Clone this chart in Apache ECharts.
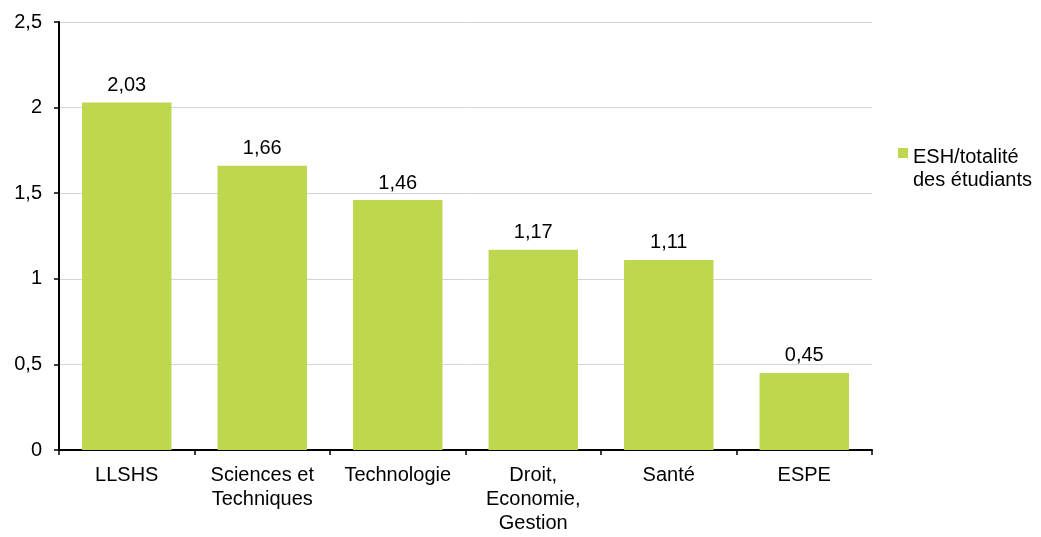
<!DOCTYPE html>
<html>
<head>
<meta charset="utf-8">
<script src="https://cdn.jsdelivr.net/npm/echarts@6/dist/echarts.min.js"></script>
<style>html,body{margin:0;padding:0;background:#fff}#c{width:1041px;height:537px}</style>
</head>
<body>
<div id="c"></div>
<script>
const categories = ["LLSHS", "Sciences et\nTechniques", "Technologie", "Droit,\nEconomie,\nGestion", "Santé", "ESPE"];
const values = [2.03, 1.66, 1.46, 1.17, 1.11, 0.45];
const seriesName = "ESH/totalité\ndes étudiants";
const yMin = 0, yMax = 2.5, yStep = 0.5;

const fmt = v => String(v).replace('.', ',');
const FONT = 'Liberation Sans, Arial, sans-serif';
const chart = echarts.init(document.getElementById('c'), null, {renderer: 'canvas'});
chart.setOption({
  animation: false,
  textStyle: {fontFamily: FONT},
  grid: {left: 59, right: 169, top: 22, bottom: 87},
  legend: {
    left: 893, top: 115, orient: 'vertical',
    itemWidth: 10, itemHeight: 10, itemGap: 6,
    icon: 'rect',
    data: [seriesName],
    formatter: name => '{e| }\n' + name.split('\n').map(s => '{a|' + s + '}').join('\n'),
    textStyle: {
      fontSize: 20, color: '#000', fontFamily: FONT,
      rich: {
        e: {fontSize: 20, lineHeight: 31, fontFamily: FONT},
        a: {fontSize: 20, lineHeight: 23, color: '#000', fontFamily: FONT}
      }
    }
  },
  xAxis: {
    type: 'category', data: categories,
    axisLine: {lineStyle: {color: '#000', width: 2}},
    axisTick: {show: true, length: 5, lineStyle: {color: '#000', width: 1.5}},
    axisLabel: {color: '#000', fontSize: 20, lineHeight: 24, margin: 13, interval: 0}
  },
  yAxis: {
    type: 'value', min: yMin, max: yMax, interval: yStep,
    axisLine: {show: true, lineStyle: {color: '#000', width: 2}},
    axisTick: {show: true, length: 5, lineStyle: {color: '#000', width: 1.5}},
    axisLabel: {color: '#000', fontSize: 20, margin: 17, formatter: fmt},
    splitLine: {lineStyle: {color: '#d4d4d4', width: 1}}
  },
  series: [{
    name: seriesName, type: 'bar', data: values,
    barCategoryGap: '34%',
    itemStyle: {color: '#bdd74e'},
    label: {show: true, position: 'top', distance: 7, color: '#000', fontSize: 20, formatter: p => fmt(p.value)}
  }]
});
</script>
</body>
</html>
